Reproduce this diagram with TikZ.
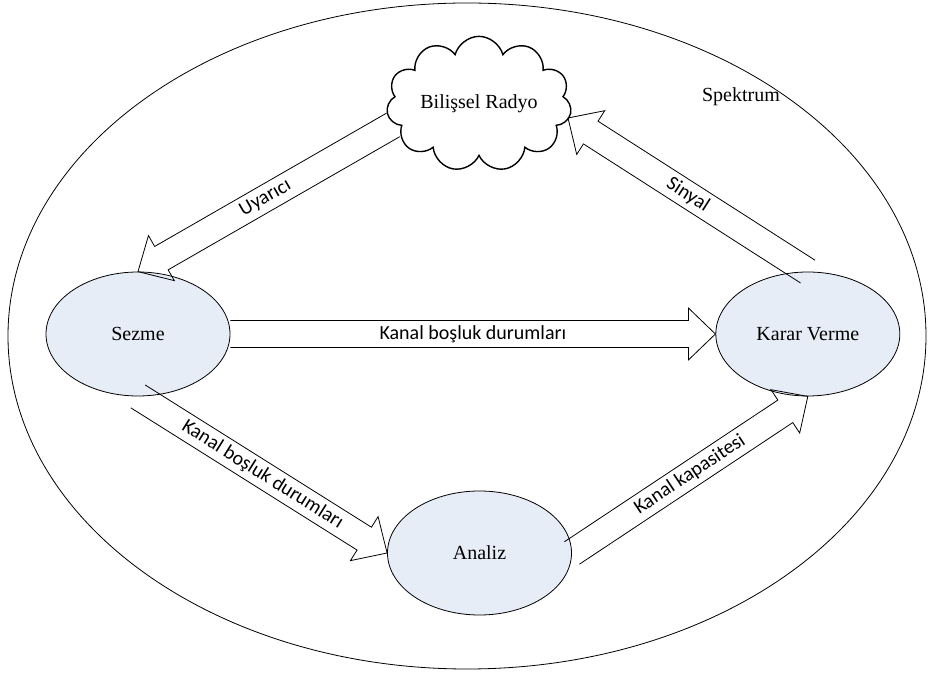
\documentclass[tikz,border=0pt]{standalone}
\usepackage{fontspec}
\setmainfont{Liberation Serif}
\newfontfamily\etiketfont{Carlito}
\usetikzlibrary{
  positioning,
  calc,
  shapes.geometric, shapes.symbols
}
\definecolor{surecmavi}{RGB}{231,237,247}
% block arrow with open tail: start, tip, label
\newcommand{\blokok}[3]{%
  \draw[blok] let \p1=(#1), \p2=(#2), \n1={atan2(\y2-\y1,\x2-\x1)} in
    ($(\p1)+(\n1+90:13.5)$) -- ($(\p2)+(\n1+180:27)+(\n1+90:13.5)$)
    -- ($(\p2)+(\n1+180:27)+(\n1+90:26)$) -- (\p2)
    -- ($(\p2)+(\n1+180:27)+(\n1-90:26)$)
    -- ($(\p2)+(\n1+180:27)+(\n1-90:13.5)$) -- ($(\p1)+(\n1-90:13.5)$);
  \path (#1) -- node[etiket, midway, sloped] {#3} (#2);
}

\begin{document}
\begin{tikzpicture}[x=1pt, y=1pt]
			\tikzset{
			surec/.style={
					ellipse, draw, fill=surecmavi, line width=0.8pt,
					minimum width=184pt, minimum height=124pt,
					font=\fontsize{20}{24}\selectfont,
				},
			bulut/.style={
					cloud, draw, fill=white, cloud puffs=11, aspect=1.6,
					minimum width=185pt, minimum height=115pt, inner sep=0pt,
					line width=1.4pt, font=\fontsize{20}{24}\selectfont,
				},
			blok/.style={line width=0.8pt, line join=miter},
			etiket/.style={font=\etiketfont\fontsize{20}{24}\selectfont, inner sep=0pt},
			}
			\useasboundingbox (0,0) rectangle (931,674);
			\node[ellipse, draw, line width=0.8pt, minimum width=918pt, minimum height=666pt] (spek) at (467,338) {};
			\node[font=\fontsize{20}{24}\selectfont] (spektxt) at (741,577) {Spektrum};

			\node[bulut] (bil) at (479,570) {Bilişsel Radyo};
			\node[surec] (sez) at (138,340) {Sezme};
			\node[surec, right=485pt of sez] (kar) {Karar Verme};
			\node[surec] (ana) at (479.5,121) {Analiz};

			\coordinate (bilsol) at ($(bil.center)+(-86,-21)$);
			\coordinate (bilsag) at ($(bil.center)+(89,-14)$);

			\blokok{bilsol}{sez.north}{Uyarıcı}
			\blokok{kar.north}{bilsag}{Sinyal}
			\blokok{sez.east}{kar.west}{Kanal boşluk durumları}
			\blokok{sez.south}{ana.west}{Kanal boşluk durumları}
			\blokok{ana.east}{kar.south}{Kanal kapasitesi}
		\end{tikzpicture}
\end{document}
